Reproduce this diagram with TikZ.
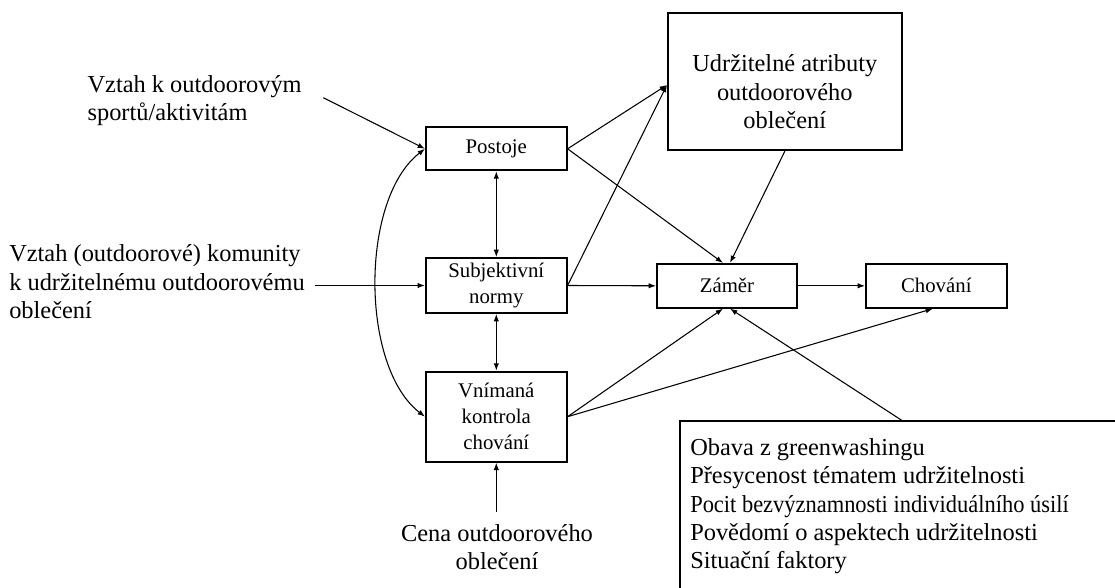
\documentclass[tikz,border=0pt]{standalone}
\usepackage{fontspec}
\setmainfont{Liberation Serif}
\usetikzlibrary{arrows.meta,calc}
\newcommand\dfont{\fontsize{15.6}{19.5}\selectfont}
\newcommand\bfont{\fontsize{18.3}{21.2}\selectfont}
\begin{document}
\begin{tikzpicture}[x=0.75pt,y=-0.75pt,
  every node/.style={font=\dfont},
  box/.style={draw,line width=1.45pt,inner sep=0pt,align=center,minimum width=105.5pt},
  txt/.style={inner sep=0pt,align=left,font=\bfont},
  arr/.style={line width=0.8pt,-{Latex[length=5.5pt,width=4pt]}},
  darr/.style={line width=0.8pt,{Latex[length=5.5pt,width=4pt]}-{Latex[length=5.5pt,width=4pt]}}]
\useasboundingbox (0,0) rectangle (1115,588);
\clip (0,0) rectangle (1115,588);
% boxes
\node[box,minimum height=32.25pt] (P) at (496.3,148.8) {Postoje};
\node[box,minimum height=41.25pt] (S) at (496.3,285.5) {Subjektivní\\normy};
\node[box,minimum height=67.5pt] (V) at (496.3,416.7) {Vnímaná\\kontrola\\chování};
\node[box,minimum width=105pt,minimum height=32.8pt] (Z) at (727,285.8) {Záměr};
\node[box,minimum width=105.5pt,minimum height=32.8pt] (C) at (936.3,285.8) {Chování};
\node[box,minimum width=175.3pt,minimum height=103.2pt] (U) at (784.8,81.5) {};
\node[txt,align=center] (Ut) at (784.8,91.7) {Udržitelné atributy\\outdoorového\\oblečení};
\node[box,anchor=north west,minimum width=400pt,minimum height=150pt] (O) at (679,420.3) {};
\node[txt,anchor=north west] (Ot) at (690,438.3) {Obava z greenwashingu\\Přesycenost tématem udržitelnosti\\\scalebox{0.92}[1]{Pocit bezvýznamnosti individuálního úsilí}\\Povědomí o aspektech udržitelnosti\\Situační faktory};
% free texts
\node[txt,anchor=west] (A1) at (87.3,100.3) {Vztah k outdoorovým\\sportů/aktivitám};
\node[txt,anchor=west] (A2) at (9,281.7) {Vztah (outdoorové) komunity\\k udržitelnému outdoorovému\\oblečení};
\node[txt,align=center] (Ce) at (497,547.5) {Cena outdoorového\\oblečení};
% free ends
\coordinate (a1) at (323.3,97.7);
\coordinate (a2) at (315,285.5);
\coordinate (a3) at (496.3,511.7);
% connectors
\draw[arr] (a1) -- (P.west);
\draw[arr] (a2) -- (S.west);
\draw[darr] (P.west) .. controls +(-65,50) and +(-65,-50) .. (V.west);
\draw[darr] (P.south) -- (S.north);
\draw[darr] (S.south) -- (V.north);
\draw[arr] (a3) -- (V.south);
\draw[arr] (P.east) -- ([yshift=-2.6pt]U.west);
\draw[arr] (S.east) -- ([yshift=-2.6pt]U.west);
\draw[arr] (P.east) -- ([xshift=-3pt]Z.north);
\draw[arr] (U.south) -- ([xshift=2.25pt]Z.north);
\draw[arr] (S.east) -- (Z.west);
\draw[arr] (Z.east) -- (C.west);
\draw[arr] (V.east) -- ([xshift=-3pt]Z.south);
\draw[arr] (V.east) -- ([xshift=-2.5pt]C.south);
\draw[arr] ([xshift=167pt]O.north west) -- ([xshift=2.25pt]Z.south);
\end{tikzpicture}
\end{document}
